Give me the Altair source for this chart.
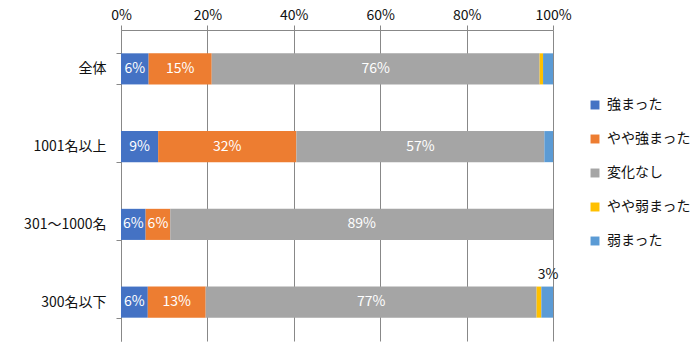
import altair as alt
import pandas as pd

categories = ["全体", "1001名以上", "301～1000名", "300名以下"]
series = ["強まった", "やや強まった", "変化なし", "やや弱まった", "弱まった"]
colors = ["#4472C4", "#ED7D31", "#A5A5A5", "#FFC000", "#5B9BD5"]

values = {
    "全体":       [6.4, 14.6, 75.9, 0.8, 2.3],
    "1001名以上":  [8.6, 32.0, 57.4, 0.0, 2.0],
    "301～1000名": [5.7, 5.7, 88.6, 0.0, 0.0],
    "300名以下":   [6.2, 13.4, 76.6, 1.1, 2.7],
}
inner_labels = {
    "全体":       ["6%", "15%", "76%", "", ""],
    "1001名以上":  ["9%", "32%", "57%", "", ""],
    "301～1000名": ["6%", "6%", "89%", "", ""],
    "300名以下":   ["6%", "13%", "77%", "", ""],
}
outer_labels = {"300名以下": ["", "", "", "", "3%"]}

rows = []
for c in categories:
    for i, s in enumerate(series):
        rows.append({
            "cat": c, "series": s, "order": i, "value": values[c][i],
            "label": inner_labels[c][i],
            "outer": outer_labels.get(c, [""] * 5)[i],
        })
df = pd.DataFrame(rows)

FONT = "Noto Sans CJK JP"
FS = 14

base = alt.Chart(df).transform_stack(
    stack="value", groupby=["cat"], as_=["x0", "x1"],
    sort=[alt.SortField("order", order="ascending")]
).transform_calculate(mid="(datum.x0 + datum.x1) / 2")

yenc = alt.Y("cat:N", sort=categories, title=None,
             scale=alt.Scale(paddingInner=0.6, paddingOuter=0.3),
             axis=alt.Axis(labelFont=FONT, labelFontSize=FS, labelColor="#111",
                           domainColor="#888", tickColor="#888", tickSize=5,
                           labelPadding=10, tickBand="extent", grid=False))

xscale = alt.Scale(domain=[0, 100], nice=False)

bars = base.mark_bar().encode(
    x=alt.X("x0:Q", scale=xscale, title=None,
            axis=alt.Axis(orient="top", values=[0, 20, 40, 60, 80, 100],
                          labelExpr="datum.value + '%'", labelFont=FONT,
                          labelFontSize=FS, labelColor="#111", labelFlush=False,
                          domainColor="#888", tickColor="#888", tickSize=5,
                          gridColor="#888", grid=True, labelPadding=3)),
    x2="x1:Q",
    y=yenc,
    color=alt.Color("series:N", sort=series,
                    scale=alt.Scale(domain=series, range=colors),
                    legend=alt.Legend(title=None, orient="none", legendX=467,
                                      legendY=68, labelFont=FONT, labelFontSize=FS,
                                      labelColor="#111", symbolType="square",
                                      symbolSize=80, symbolStrokeWidth=0,
                                      rowPadding=20, labelOffset=5)),
    order=alt.Order("order:Q"),
)

text = base.mark_text(font=FONT, fontSize=FS, color="white").encode(
    x=alt.X("mid:Q", scale=xscale),
    y=alt.Y("cat:N", sort=categories),
    text="label:N",
)

outer = base.transform_filter("datum.outer != ''").mark_text(
    font=FONT, fontSize=FS, color="#111", dy=-27, dx=1
).encode(
    x=alt.X("mid:Q", scale=xscale),
    y=alt.Y("cat:N", sort=categories),
    text="outer:N",
)

chart = alt.layer(bars, text, outer).properties(
    width=432, height=311,
    padding={"left": 121, "top": 30, "right": 144, "bottom": 13},
    autosize=alt.AutoSizeParams(type="none"),
).configure_view(stroke=None)

chart.save("out.html", embed_options={"renderer": "svg", "actions": False})
